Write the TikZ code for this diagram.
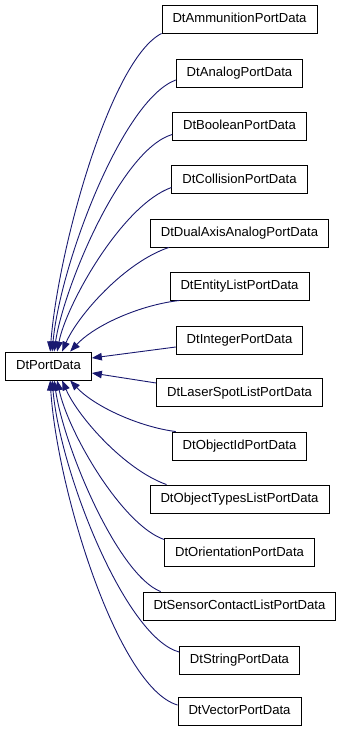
\documentclass[tikz,border=0pt]{standalone}
\usepackage{fontspec}
\setmainfont{Liberation Sans}
\usetikzlibrary{arrows.meta}
\definecolor{edgeblue}{RGB}{25,25,112}
\begin{document}
\begin{tikzpicture}[x=1pt,y=-1pt,
  box/.style={draw=black, line width=0.9pt, fill=white, inner xsep=10.5pt, inner ysep=0pt,
    minimum height=28pt, font=\fontsize{13.1}{15}\selectfont, text height=9.5pt, text depth=2.5pt},
  edge/.style={draw=edgeblue, line width=0.9pt, -{Triangle[length=10pt,width=7.5pt]}}]
\useasboundingbox (0,0) rectangle (344,733);
\node[box] (base) at (48.5,366) {DtPortData};
\node[box] (c1) at (239.5,19) {DtAmmunitionPortData};
\node[box] (c2) at (239.5,73) {DtAnalogPortData};
\node[box] (c3) at (239.5,126.5) {DtBooleanPortData};
\node[box] (c4) at (239.5,179.5) {DtCollisionPortData};
\node[box] (c5) at (239.5,233) {DtDualAxisAnalogPortData};
\node[box] (c6) at (239.5,286) {DtEntityListPortData};
\node[box] (c7) at (239.5,340) {DtIntegerPortData};
\node[box] (c8) at (239.5,392.5) {DtLaserSpotListPortData};
\node[box] (c9) at (239.5,446) {DtObjectIdPortData};
\node[box] (c10) at (239.5,499) {DtObjectTypesListPortData};
\node[box] (c11) at (239.5,552.5) {DtOrientationPortData};
\node[box] (c12) at (239.5,606) {DtSensorContactListPortData};
\node[box] (c13) at (239.5,660) {DtStringPortData};
\node[box] (c14) at (239.5,711) {DtVectorPortData};
% upper edges
\draw[edge] (c1.south west) .. controls (110,60) and (58,250) .. ([xshift=45pt]base.north west);
\draw[edge] ([yshift=-7pt]c2.west) .. controls (122,100) and (60,265) .. ([xshift=47pt]base.north west);
\draw[edge] ([yshift=-8pt]c3.west) .. controls (120,150) and (63,290) .. ([xshift=49pt]base.north west);
\draw[edge] ([yshift=-8pt]c4.west) .. controls (122,205) and (66,305) .. ([xshift=52pt]base.north west);
\draw[edge] ([xshift=19pt]c5.south west) .. controls (125,262) and (78,315) .. ([xshift=57pt]base.north west);
\draw[edge] ([xshift=10pt]c6.south west) .. controls (140,305) and (95,325) .. ([xshift=65pt]base.north west);
\draw[edge] ([yshift=-7pt]c7.west) -- ([yshift=8pt]base.east);
\draw[edge] ([yshift=9.5pt]c8.west) -- ([yshift=-7pt]base.east);
% lower edges
\draw[edge] ([xshift=4pt]c9.north west) .. controls (140,427) and (95,407) .. ([xshift=65pt]base.south west);
\draw[edge] ([xshift=17pt]c10.north west) .. controls (125,470) and (78,417) .. ([xshift=57pt]base.south west);
\draw[edge] ([yshift=13pt]c11.west) .. controls (122,525) and (68,432) .. ([xshift=52pt]base.south west);
\draw[edge] ([xshift=18pt]c12.north west) .. controls (118,575) and (64,448) .. ([xshift=49pt]base.south west);
\draw[edge] ([yshift=8pt]c13.west) .. controls (125,637) and (60,472) .. ([xshift=47pt]base.south west);
\draw[edge] ([yshift=6pt]c14.west) .. controls (118,688) and (57,490) .. ([xshift=45pt]base.south west);
\end{tikzpicture}
\end{document}
